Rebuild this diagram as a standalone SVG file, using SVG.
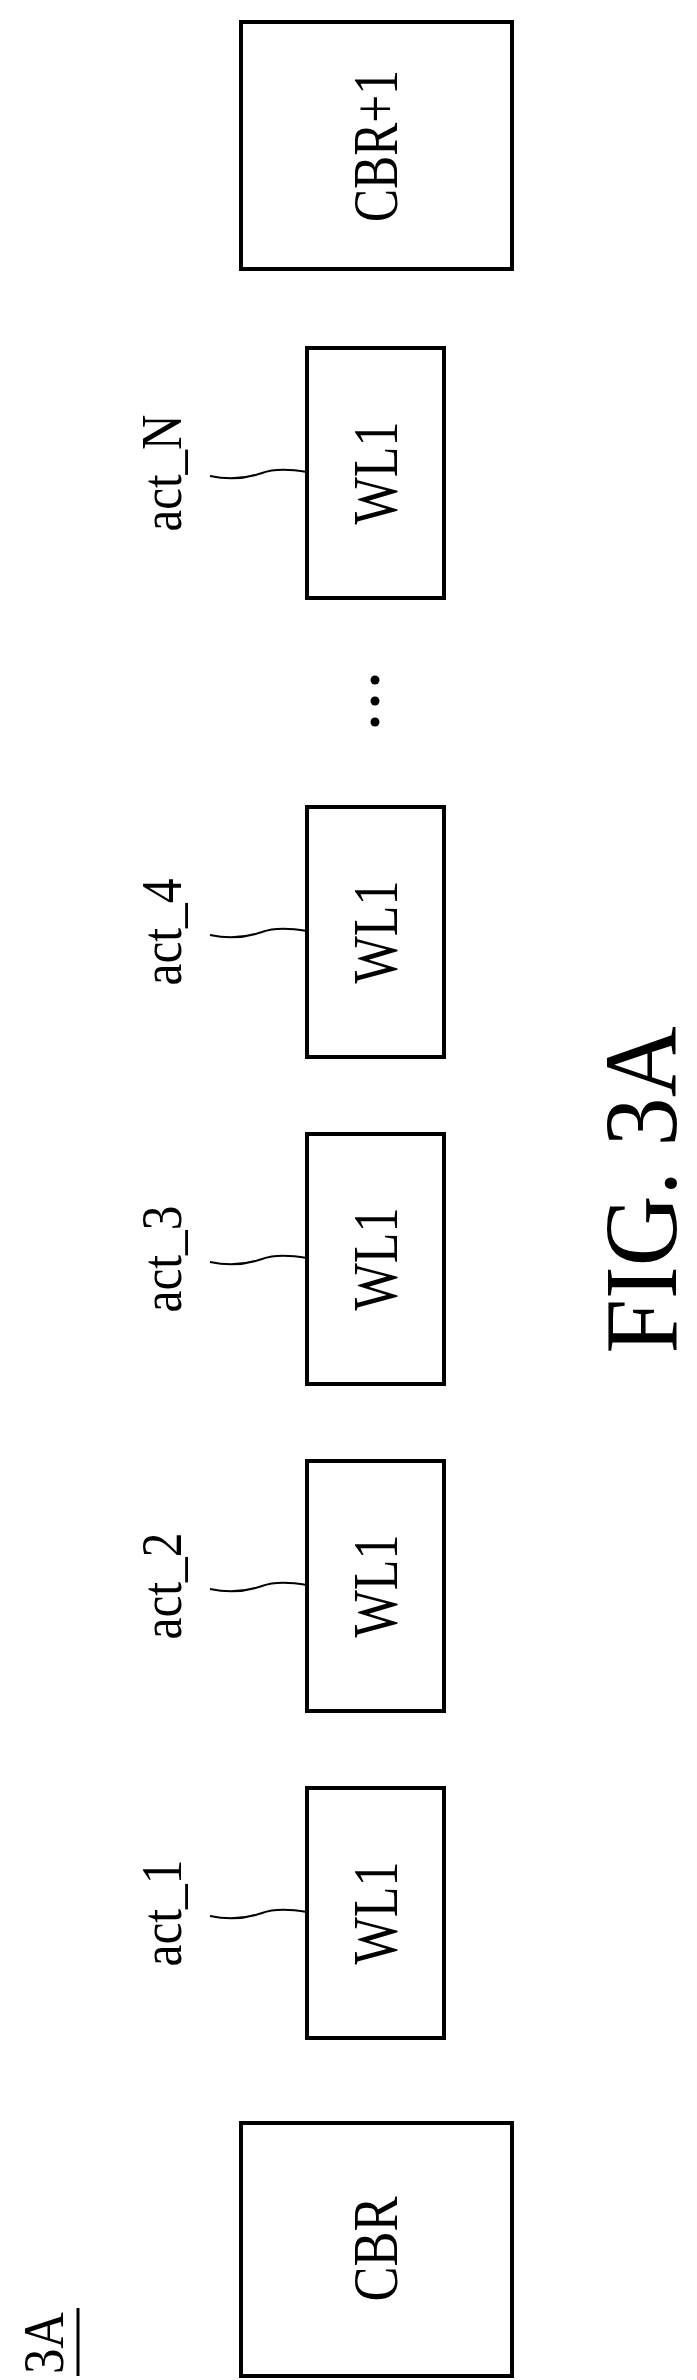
<svg xmlns="http://www.w3.org/2000/svg" width="697" height="2380" viewBox="0 0 697 2380">
<style>
.box{fill:#fff;stroke:#000;stroke-width:4}
.t{font-family:"Liberation Serif",serif;fill:#000}
.w{fill:none;stroke:#000;stroke-width:2}
</style>
<rect width="697" height="2380" fill="#fff"/>
<g id="label3A">
<text class="t" font-size="58" transform="translate(63,2343) rotate(-90)" text-anchor="middle" textLength="62" lengthAdjust="spacingAndGlyphs">3A</text>
<line x1="78" y1="2308" x2="78" y2="2376" stroke="#000" stroke-width="3"/>
</g>
<g id="CBR">
<rect class="box" x="241" y="2123" width="271" height="253"/>
<text class="t" font-size="64" transform="translate(397,2249) rotate(-90)" text-anchor="middle" textLength="105" lengthAdjust="spacingAndGlyphs">CBR</text>
</g>
<g id="CBR1">
<rect class="box" x="241" y="22" width="271" height="247"/>
<text class="t" font-size="64" transform="translate(397,146) rotate(-90)" text-anchor="middle" textLength="152" lengthAdjust="spacingAndGlyphs">CBR+1</text>
</g>
<g id="wl_1">
<rect class="box" x="307" y="1788" width="137" height="250"/>
<text class="t" font-size="64" transform="translate(397,1913) rotate(-90)" text-anchor="middle" textLength="103" lengthAdjust="spacingAndGlyphs">WL1</text>
<text class="t" font-size="56" transform="translate(181,1913) rotate(-90)" text-anchor="middle" textLength="107" lengthAdjust="spacingAndGlyphs">act_1</text>
</g>
<g id="wl_2">
<rect class="box" x="307" y="1461" width="137" height="250"/>
<text class="t" font-size="64" transform="translate(397,1586) rotate(-90)" text-anchor="middle" textLength="103" lengthAdjust="spacingAndGlyphs">WL1</text>
<text class="t" font-size="56" transform="translate(181,1586) rotate(-90)" text-anchor="middle" textLength="107" lengthAdjust="spacingAndGlyphs">act_2</text>
</g>
<g id="wl_3">
<rect class="box" x="307" y="1134" width="137" height="250"/>
<text class="t" font-size="64" transform="translate(397,1259) rotate(-90)" text-anchor="middle" textLength="103" lengthAdjust="spacingAndGlyphs">WL1</text>
<text class="t" font-size="56" transform="translate(181,1259) rotate(-90)" text-anchor="middle" textLength="107" lengthAdjust="spacingAndGlyphs">act_3</text>
</g>
<g id="wl_4">
<rect class="box" x="307" y="807" width="137" height="250"/>
<text class="t" font-size="64" transform="translate(397,932) rotate(-90)" text-anchor="middle" textLength="103" lengthAdjust="spacingAndGlyphs">WL1</text>
<text class="t" font-size="56" transform="translate(181,932) rotate(-90)" text-anchor="middle" textLength="107" lengthAdjust="spacingAndGlyphs">act_4</text>
</g>
<g id="wl_N">
<rect class="box" x="307" y="348" width="137" height="250"/>
<text class="t" font-size="64" transform="translate(397,473) rotate(-90)" text-anchor="middle" textLength="103" lengthAdjust="spacingAndGlyphs">WL1</text>
<text class="t" font-size="56" transform="translate(181,473) rotate(-90)" text-anchor="middle" textLength="117" lengthAdjust="spacingAndGlyphs">act_N</text>
</g>
<g id="ellipsis">
<circle cx="375" cy="680" r="4.5"/>
<circle cx="375" cy="701" r="4.5"/>
<circle cx="375" cy="722" r="4.5"/>
</g>
<g id="connectors">
<path class="w" d="M210 1916 C228 1920 245 1919 262 1913 C275 1908 290 1909 307 1912"/>
<path class="w" d="M210 1589 C228 1593 245 1592 262 1586 C275 1581 290 1582 307 1585"/>
<path class="w" d="M210 1262 C228 1266 245 1265 262 1259 C275 1254 290 1255 307 1258"/>
<path class="w" d="M210 935 C228 939 245 938 262 932 C275 927 290 928 307 931"/>
<path class="w" d="M210 476 C228 480 245 479 262 473 C275 468 290 469 307 472"/>
</g>
<g id="caption">
<text class="t" font-size="104" transform="translate(676,1190) rotate(-90)" text-anchor="middle" textLength="327" lengthAdjust="spacingAndGlyphs">FIG. 3A</text>
</g>
</svg>
